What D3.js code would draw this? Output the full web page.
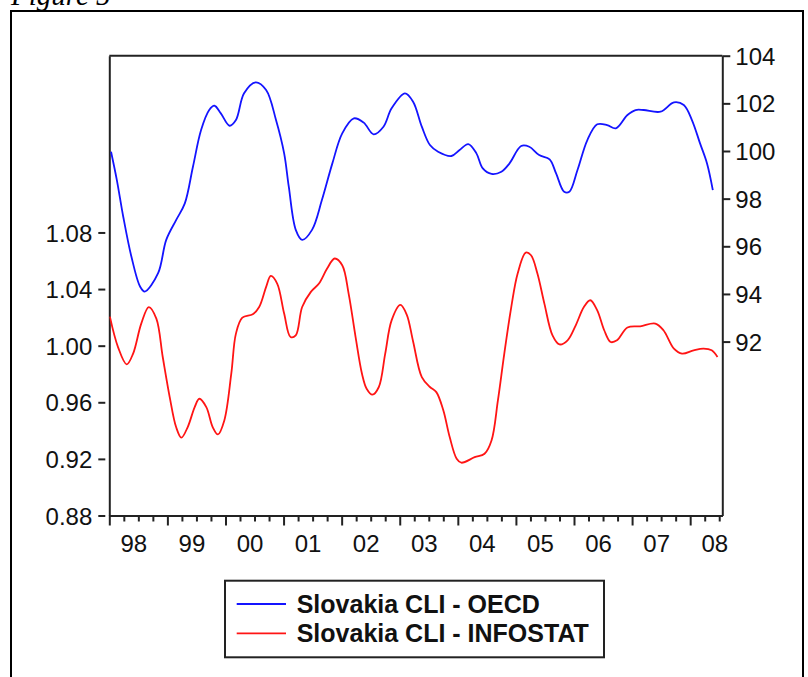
<!DOCTYPE html>
<html>
<head>
<meta charset="utf-8">
<script src="https://cdn.jsdelivr.net/npm/d3@7/dist/d3.min.js"></script>
<style>
  html, body { margin: 0; padding: 0; background: #fff; }
  svg { display: block; }
</style>
</head>
<body>
<svg id="chart" width="808" height="677"></svg>
<script>
// ---- data ----
// time in decimal years
const oecdTime = [1998.03,1998.13,1998.24,1998.38,1998.53,1998.61,1998.84,1998.98,1999.15,1999.30,1999.44,1999.58,1999.72,1999.81,1999.92,2000.07,2000.18,2000.32,2000.52,2000.70,2000.87,2001.01,2001.09,2001.21,2001.32,2001.49,2001.66,2001.84,2002.01,2002.21,2002.38,2002.55,2002.72,2002.86,2003.09,2003.23,2003.38,2003.52,2003.66,2003.89,2004.03,2004.18,2004.32,2004.43,2004.58,2004.75,2004.89,2005.09,2005.23,2005.40,2005.58,2005.69,2005.83,2005.92,2006.06,2006.23,2006.40,2006.57,2006.72,2006.92,2007.06,2007.20,2007.49,2007.72,2007.89,2008.03,2008.17,2008.29,2008.39];
const oecdValues = [99.97,98.78,97.24,95.57,94.31,94.10,94.87,96.27,97.10,97.80,99.34,100.88,101.72,101.90,101.58,101.06,101.30,102.42,102.88,102.56,101.30,99.90,98.50,96.69,96.27,96.69,97.94,99.48,100.74,101.37,101.19,100.70,101.02,101.79,102.42,102.07,101.02,100.25,99.97,99.79,100.04,100.29,99.90,99.27,99.04,99.13,99.48,100.21,100.18,99.83,99.65,99.07,98.29,98.29,99.20,100.46,101.12,101.09,100.95,101.51,101.72,101.72,101.65,102.04,101.93,101.30,100.32,99.48,98.36];

const infostatTime = [1998.01,1998.15,1998.30,1998.41,1998.55,1998.68,1998.81,1998.92,1999.04,1999.15,1999.24,1999.35,1999.47,1999.55,1999.67,1999.78,1999.87,1999.98,2000.10,2000.18,2000.29,2000.47,2000.58,2000.70,2000.78,2000.89,2001.01,2001.12,2001.21,2001.32,2001.47,2001.61,2001.75,2001.88,2002.01,2002.12,2002.24,2002.35,2002.43,2002.53,2002.64,2002.75,2002.86,2003.01,2003.12,2003.23,2003.38,2003.52,2003.63,2003.75,2003.86,2003.98,2004.06,2004.29,2004.46,2004.58,2004.69,2004.80,2004.92,2005.03,2005.17,2005.26,2005.37,2005.49,2005.63,2005.75,2005.89,2006.03,2006.17,2006.28,2006.40,2006.52,2006.63,2006.74,2006.92,2007.14,2007.40,2007.54,2007.72,2007.86,2008.06,2008.23,2008.37,2008.47];
const infostatValues = [1.0205,0.999,0.9868,0.9944,1.0156,1.0273,1.0191,0.992,0.9637,0.9425,0.935,0.9425,0.9566,0.9625,0.9566,0.9425,0.9373,0.9472,0.9802,1.0085,1.0198,1.0222,1.0273,1.0415,1.0493,1.0439,1.0227,1.0061,1.0073,1.0273,1.038,1.0439,1.0545,1.0616,1.0568,1.0368,1.0061,0.9802,0.9696,0.9654,0.9708,0.9944,1.0179,1.0288,1.022,1.003,0.9778,0.9708,0.9672,0.9543,0.9354,0.9201,0.9173,0.9212,0.9236,0.933,0.9613,0.9944,1.0273,1.051,1.0658,1.0639,1.051,1.0297,1.0073,1.0009,1.0038,1.0144,1.0273,1.0321,1.025,1.0109,1.0026,1.0038,1.0128,1.0137,1.0156,1.0109,0.9979,0.9944,0.9967,0.9979,0.9967,0.992];

const years = [1998,1999,2000,2001,2002,2003,2004,2005,2006,2007,2008];
const yearLabels = ["98","99","00","01","02","03","04","05","06","07","08"];
const leftTicks = [0.88,0.92,0.96,1.00,1.04,1.08];
const rightTicks = [92,94,96,98,100,102,104];
const seriesNames = ["Slovakia CLI - OECD","Slovakia CLI - INFOSTAT"];
const seriesColors = ["#1414ff","#ff1414"];

// ---- layout ----
const svg = d3.select("#chart");
const L = 109.3, R = 722.3, T = 55.7, B = 515.5;
const axisColor = "#222";
const font = "'Liberation Sans', Arial, sans-serif";

// outer frame
svg.append("rect").attr("x", 11).attr("y", 11).attr("width", 792).attr("height", 700)
  .attr("fill", "none").attr("stroke", "#000").attr("stroke-width", 2);

// figure caption (clipped at the top)
svg.append("text").attr("x", 11).attr("y", 4.5)
  .attr("font-family", "'Liberation Serif', 'Times New Roman', serif")
  .attr("font-style", "italic").attr("font-size", 29).text("Figure 5");

const x = d3.scaleLinear().domain([1998, 2008.553]).range([L, R]);
const yL = d3.scaleLinear().domain([0.88, 1.2049]).range([B, T]);
const yR = d3.scaleLinear().domain([84.70, 104]).range([B, T]);

// top border
svg.append("line").attr("x1", L).attr("x2", R).attr("y1", T).attr("y2", T)
  .attr("stroke", axisColor).attr("stroke-width", 2);

// bottom axis – minor (quarterly) ticks
const quarters = [];
years.forEach(yv => { [0.25, 0.5, 0.75].forEach(q => { if (yv + q <= 2008.553) quarters.push(yv + q); }); });
const gxMinor = svg.append("g").attr("transform", `translate(0,${B})`)
  .call(d3.axisBottom(x).tickValues(quarters).tickSize(6).tickFormat("").tickSizeOuter(0));
const gxMajor = svg.append("g").attr("transform", `translate(0,${B})`)
  .call(d3.axisBottom(x).tickValues(years).tickSize(10).tickFormat("").tickSizeOuter(0));
[gxMinor, gxMajor].forEach(g => {
  g.selectAll("path.domain").attr("stroke", axisColor).attr("stroke-width", 2);
  g.selectAll(".tick line").attr("stroke", axisColor).attr("stroke-width", 2);
});
// year labels
const gxLab = svg.append("g").attr("transform", `translate(0,${B})`)
  .call(d3.axisBottom(x).tickValues(years.map(v => v + 0.5)).tickSize(0)
    .tickFormat((d, i) => yearLabels[i]));
gxLab.select("path.domain").remove();
gxLab.selectAll("text").attr("font-family", font).attr("font-size", 24)
  .attr("fill", "#111").attr("dy", 0).attr("y", 36).attr("dx", -5);

// left axis
const gyL = svg.append("g").attr("transform", `translate(${L},0)`)
  .call(d3.axisLeft(yL).tickValues(leftTicks).tickFormat(d3.format(".2f")).tickSize(11).tickSizeOuter(0));
gyL.select("path.domain").attr("stroke", axisColor).attr("stroke-width", 2);
gyL.selectAll(".tick line").attr("x1", -4).attr("x2", -11).attr("stroke", axisColor).attr("stroke-width", 2);
gyL.selectAll(".tick text").attr("font-family", font).attr("font-size", 24)
  .attr("fill", "#111").attr("x", -17).attr("dy", "0.36em");

// right axis
const gyR = svg.append("g").attr("transform", `translate(${R},0)`)
  .call(d3.axisRight(yR).tickValues(rightTicks).tickSize(8).tickSizeOuter(0));
gyR.select("path.domain").attr("stroke", axisColor).attr("stroke-width", 2);
gyR.selectAll(".tick line").attr("stroke", axisColor).attr("stroke-width", 2);
gyR.selectAll(".tick text").attr("font-family", font).attr("font-size", 24)
  .attr("fill", "#111").attr("x", 13).attr("dy", "0.36em");

// lines
const lineR = d3.line().x(d => x(d[0])).y(d => yR(d[1])).curve(d3.curveCatmullRom.alpha(0.5));
const lineL = d3.line().x(d => x(d[0])).y(d => yL(d[1])).curve(d3.curveCatmullRom.alpha(0.5));
const clip = svg.append("clipPath").attr("id", "plotclip").append("rect")
  .attr("x", L).attr("y", T).attr("width", R - L).attr("height", B - T);
const plot = svg.append("g").attr("clip-path", "url(#plotclip)");
plot.append("path").datum(d3.zip(oecdTime, oecdValues)).attr("d", lineR)
  .attr("fill", "none").attr("stroke", seriesColors[0]).attr("stroke-width", 1.8);
plot.append("path").datum(d3.zip(infostatTime, infostatValues)).attr("d", lineL)
  .attr("fill", "none").attr("stroke", seriesColors[1]).attr("stroke-width", 1.8);

// legend
const lg = svg.append("g");
lg.append("rect").attr("x", 225).attr("y", 580.7).attr("width", 379).attr("height", 76.6)
  .attr("fill", "#fff").attr("stroke", "#222").attr("stroke-width", 2);
seriesNames.forEach((name, i) => {
  const cy = 604 + i * 29.3;
  lg.append("line").attr("x1", 236.7).attr("x2", 286).attr("y1", cy).attr("y2", cy)
    .attr("stroke", seriesColors[i]).attr("stroke-width", 1.8);
  lg.append("text").attr("x", 296.7).attr("y", cy + 9)
    .attr("font-family", font).attr("font-weight", "bold").attr("font-size", 25)
    .attr("fill", "#111").text(name);
});
</script>
</body>
</html>
